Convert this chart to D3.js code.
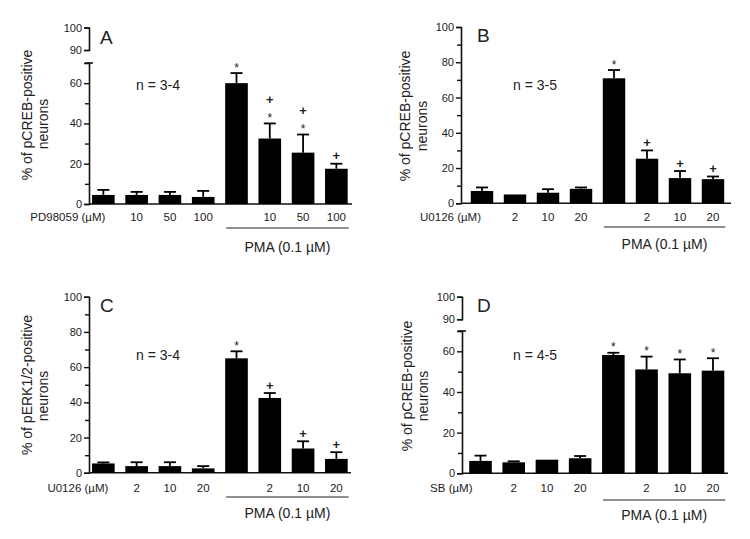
<!DOCTYPE html>
<html><head><meta charset="utf-8">
<script src="https://cdn.jsdelivr.net/npm/d3@7"></script>
<style>
body{margin:0;background:#fff;}
svg text{font-family:"Liberation Sans",Arial,sans-serif;fill:#222;}
</style></head>
<body><svg id="c" width="750" height="539"></svg>
<script>
// ---------- data ----------
const catsA = ["PD98059 (µM)", "10", "50", "100", "", "10", "50", "100"];
const catsB = ["U0126 (µM)", "2", "10", "20", "", "2", "10", "20"];
const catsC = ["U0126 (µM)", "2", "10", "20", "", "2", "10", "20"];
const catsD = ["SB (µM)", "2", "10", "20", "", "2", "10", "20"];

const valuesA = [4.5, 4.5, 4.5, 3.5, 60, 32.5, 25.5, 17.5];
const errorsA = [2.5, 1.5, 1.5, 3, 5, 7.5, 9, 2.5];
const valuesB = [7, 5, 6, 8.2, 70.9, 25.3, 14.3, 13.7];
const errorsB = [2, 0, 2, 0.8, 4.7, 4.7, 4, 1.5];
const valuesC = [5.3, 3.8, 3.8, 2.5, 65, 42.5, 13.8, 7.9];
const errorsC = [0.6, 2.2, 2.2, 1.3, 4, 2.8, 4.1, 3.8];
const valuesD = [6.1, 5.4, 6.7, 7.4, 58.2, 51.1, 49.2, 50.5];
const errorsD = [2.6, 0.5, 0, 1.1, 1.1, 6.3, 6.8, 6.1];

// significance marks, listed from bottom to top
const marksA = [[], [], [], [], ["*"], ["*", "+"], ["*", "+"], ["+"]];
const marksB = [[], [], [], [], ["*"], ["+"], ["+"], ["+"]];
const marksC = [[], [], [], [], ["*"], ["+"], ["+"], ["+"]];
const marksD = [[], [], [], [], ["*"], ["*"], ["*"], ["*"]];

const majorTicks = [0, 20, 40, 60, 80, 100];
const minorTicks = [10, 30, 50, 70, 90];
const brokenLowTicks = [0, 10, 20, 30, 40, 50, 60];
const brokenHighTicks = [90, 100];

const panels = [
  {id:"A", cats:catsA, vals:valuesA, errs:errorsA, marks:marksA, broken:true, n:"n = 3-4",
   title:"% of pCREB-positive",
   ax:89, xEnd:352, band:[86.7,353], y0:204, y70:63, y90:50, y100:27.5,
   lx:100, ly:44, nx:136, ny:90, firstDx:2, t1:[27,115], t2:[43,124], pmaY:228, pmaTY:251.5, labY:221},
  {id:"B", cats:catsB, vals:valuesB, errs:errorsB, marks:marksB, broken:false, n:"n = 3-5",
   title:"% of pCREB-positive",
   ax:461, xEnd:731, band:[465.5,729.5], y0:203.3, y100:27,
   lx:477, ly:42, nx:513, ny:90, firstDx:-1, t1:[405,116], t2:[422,126], pmaY:227, pmaTY:249, labY:221},
  {id:"C", cats:catsC, vals:valuesC, errs:errorsC, marks:marksC, broken:false, n:"n = 3-4",
   title:"% of pERK1/2-positive",
   ax:89, xEnd:351, band:[86.7,353], y0:472.8, y100:296.7,
   lx:100, ly:312, nx:136, ny:360, firstDx:5, t1:[27,385], t2:[43,396], pmaY:497, pmaTY:518, labY:492},
  {id:"D", cats:catsD, vals:valuesD, errs:errorsD, marks:marksD, broken:true, n:"n = 4-5",
   title:"% of pCREB-positive",
   ax:462, xEnd:728, band:[463.9,729.6], y0:473.3, y70:331, y90:319.3, y100:296.7,
   lx:477, ly:312, nx:513, ny:360, firstDx:-8, t1:[407,386], t2:[423,396], pmaY:500, pmaTY:520, labY:492}
];

const svg = d3.select("#c");

panels.forEach(p => {
  const g = svg.append("g");
  const x = d3.scaleBand().domain(d3.range(p.cats.length)).range(p.band)
    .paddingInner(0.32).paddingOuter(0.16);
  let y;
  if (p.broken) {
    y = d3.scaleLinear().domain([0, 70, 90, 100]).range([p.y0, p.y70, p.y90, p.y100]);
  } else {
    y = d3.scaleLinear().domain([0, 100]).range([p.y0, p.y100]);
  }

  const styleAxis = (sel, minorSet) => {
    sel.select(".domain").attr("stroke", "#111").attr("stroke-width", 1.6);
    sel.selectAll(".tick line").attr("stroke", "#111").attr("stroke-width", 1.4)
      .attr("x2", d => minorSet.includes(d) ? -4 : -5);
    sel.selectAll(".tick text").attr("font-size", 11).attr("x", -7).style("fill", "#222");
  };

  if (p.broken) {
    const yl = d3.scaleLinear().domain([0, 70]).range([p.y0, p.y70]);
    const yh = d3.scaleLinear().domain([90, 100]).range([p.y90, p.y100]);
    const aL = g.append("g").attr("transform", `translate(${p.ax},0)`)
      .call(d3.axisLeft(yl).tickValues(brokenLowTicks).tickSizeOuter(0).tickSize(5)
        .tickFormat(d => d % 20 === 0 ? d : ""));
    styleAxis(aL, minorTicks);
    // cap at the break (70)
    g.append("line").attr("x1", p.ax - 4).attr("x2", p.ax + 4)
      .attr("y1", yl(70)).attr("y2", yl(70)).attr("stroke", "#111").attr("stroke-width", 1.6);
    const aH = g.append("g").attr("transform", `translate(${p.ax},0)`)
      .call(d3.axisLeft(yh).tickValues(brokenHighTicks).tickSizeOuter(5).tickSize(5));
    styleAxis(aH, []);
  } else {
    const a = g.append("g").attr("transform", `translate(${p.ax},0)`)
      .call(d3.axisLeft(y).tickValues(d3.merge([majorTicks, minorTicks]).sort(d3.ascending))
        .tickSizeOuter(5).tickSize(5).tickFormat(d => d % 20 === 0 ? d : ""));
    styleAxis(a, minorTicks);
  }

  // x axis line
  g.append("line").attr("x1", p.ax).attr("x2", p.xEnd).attr("y1", y(0)).attr("y2", y(0))
    .attr("stroke", "#111").attr("stroke-width", 1.6);

  const idx = d3.range(p.vals.length);
  // bars
  g.selectAll("rect.bar").data(idx).join("rect").attr("class", "bar")
    .attr("x", i => x(i)).attr("width", x.bandwidth())
    .attr("y", i => y(p.vals[i])).attr("height", i => y(0) - y(p.vals[i]))
    .attr("fill", "#000");

  // error bars (upper only)
  const capW = 12;
  idx.filter(i => p.errs[i] > 0).forEach(i => {
    const cx = x(i) + x.bandwidth() / 2;
    const top = y(p.vals[i] + p.errs[i]);
    g.append("line").attr("x1", cx).attr("x2", cx).attr("y1", y(p.vals[i])).attr("y2", top)
      .attr("stroke", "#000").attr("stroke-width", 1.8);
    g.append("line").attr("x1", cx - capW / 2).attr("x2", cx + capW / 2).attr("y1", top).attr("y2", top)
      .attr("stroke", "#000").attr("stroke-width", 1.8);
  });

  // significance marks
  idx.forEach(i => {
    const cx = x(i) + x.bandwidth() / 2;
    let c = y(p.vals[i] + p.errs[i]) - 8;
    p.marks[i].forEach(m => {
      if (m === "*") {
        g.append("text").attr("x", cx).attr("y", c + 6.5).attr("text-anchor", "middle")
          .attr("font-size", 12).text("*");
      } else {
        g.append("text").attr("x", cx).attr("y", c + 4.5).attr("text-anchor", "middle")
          .attr("font-size", 13).attr("font-weight", "bold").text("+");
      }
      c -= 16;
    });
  });

  // category labels
  idx.forEach(i => {
    if (!p.cats[i]) return;
    const cx = x(i) + x.bandwidth() / 2;
    g.append("text").attr("x", i === 0 ? cx + p.firstDx : cx).attr("y", p.labY)
      .attr("text-anchor", i === 0 ? "end" : "middle").attr("font-size", 11.5).text(p.cats[i]);
  });

  // PMA bracket
  const px1 = x(4) + 1, px2 = x(7) + x.bandwidth() + 1;
  g.append("line").attr("x1", px1).attr("x2", px2).attr("y1", p.pmaY).attr("y2", p.pmaY)
    .attr("stroke", "#222").attr("stroke-width", 1.2);
  g.append("text").attr("x", (px1 + px2) / 2).attr("y", p.pmaTY).attr("text-anchor", "middle")
    .attr("font-size", 14).text("PMA (0.1 µM)");

  // panel letter and n
  g.append("text").attr("x", p.lx).attr("y", p.ly).attr("font-size", 19).text(p.id);
  g.append("text").attr("x", p.nx).attr("y", p.ny).attr("font-size", 14).text(p.n);

  // y titles
  g.append("text").attr("transform", `translate(${p.t1[0]},${p.t1[1]}) rotate(-90)`)
    .attr("text-anchor", "middle").attr("dominant-baseline", "central").attr("font-size", 14).text(p.title);
  g.append("text").attr("transform", `translate(${p.t2[0]},${p.t2[1]}) rotate(-90)`)
    .attr("text-anchor", "middle").attr("dominant-baseline", "central").attr("font-size", 14).text("neurons");
});
</script></body></html>
